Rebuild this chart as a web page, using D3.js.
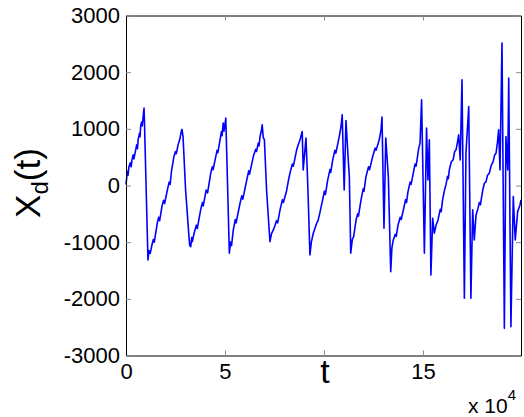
<!DOCTYPE html>
<html>
<head>
  <script src="https://d3js.org/d3.v7.min.js"></script>
  <style>
    body { margin: 0; background: #fff; }
    text { font-family: "Liberation Sans", Arial, Helvetica, sans-serif; fill: #000; }
    .axis path { stroke: #000; stroke-width: 1; }
    .axis line { stroke: #8a8a8a; }
  </style>
</head>
<body>
<script>
  // time samples (t) and displacement X_d(t)
  var tSamples = [
    0, 700, 1000, 1500, 2200, 2600, 3000, 3600, 4000, 4900, 5400, 5800, 6100, 6800, 7100, 7400, 7900, 8200, 8600, 9100, 9300, 11100,
    11600, 12200, 13100, 13800, 14300, 15800, 16500, 17000, 18200, 19000, 19500, 20900, 21800, 22300, 23000, 24200, 25000, 25400, 26300, 27200, 27900, 28300, 28800, 30100, 31800, 32200, 32700, 33200, 33500, 34400,
    35500, 36000, 37700, 38600, 39000, 40500, 41200, 42800, 43600, 44000, 45000, 46000, 46400, 47500, 48200, 48500, 49100, 49500, 50000, 50400, 52200,
    52800, 53300, 54200, 55200, 55600, 57600, 58500, 59000, 61000, 62000, 62400, 64300, 65500, 65900, 66800, 67200, 67700, 68300, 68800, 69300, 69900, 71000, 72700,
    73500, 74400, 75300, 76000, 76600, 77800, 79000, 79500, 81200, 82000, 82800, 84000, 84500, 86200, 87000, 87900, 89000, 89500, 90900, 91600, 92100, 92900,
    93600, 94600, 95400, 96300, 97000, 97800, 99300, 100200, 100700, 101900, 103000, 103400, 104400, 105500, 106000, 107700, 108600, 109200, 110200, 111100, 112300, 112800, 113500,
    114300, 115000, 116200, 117000, 117400, 118700, 119800, 120200, 121200, 122500, 123000, 124600, 125800, 126300, 127900, 128800, 129300, 130300, 131200, 132500, 133700,
    134300, 135000, 136000, 136500, 137400, 138500, 139000, 140100, 141200, 141700, 142400, 143500, 144000, 145100, 146000, 146500, 147000, 147800, 148500, 149300, 150700, 151800, 152500, 153200, 154000, 154900, 155700,
    156600, 157600, 158700, 159200, 159900, 161000, 161600, 162400, 162800, 163300, 164300, 165200, 166000, 166700, 167400, 168000, 168800, 169700, 170900, 171700, 173100, 174200, 175100, 175900, 176800,
    177800, 178500, 179000, 180200, 181000, 181800, 182600, 183500, 184500, 185400, 186200, 186900, 187600, 188200, 188900, 189900, 191100, 191900, 192800, 193300, 194400, 195600, 196600, 197800, 199000, 199500
  ];
  var xdSamples = [
    20, 250, 180, 334, 400, 330, 452, 540, 470, 629, 720, 650, 806, 920, 860, 1041, 1120, 1050, 1194, 1366, 1150, -1314,
    -1150, -1200, -1049, -950, -1000, -666, -560, -620, -360, -260, -320, -78, 60, 20, 260, 511, 600, 560, 717, 820, 952, 990, 864, -78, -903, -1060, -1080, -920, -990, -843,
    -700, -760, -431, -300, -360, -80, -130, 217, 330, 280, 452, 620, 580, 806, 950, 880, 1100, 960, 1080, 1189, -1196,
    -1000, -1060, -784, -600, -660, -313, -180, -240, 99, 260, 200, 511, 640, 600, 747, 700, 864, 952, 1071, 850, 806, -78, -991,
    -850, -784, -700, -620, -660, -431, -250, -300, -78, 80, 217, 380, 340, 629, 720, 806, 952, 276, 836, 217, -313, -1226,
    -1000, -843, -760, -666, -620, -500, -254, -100, -160, 99, 280, 230, 452, 620, 570, 864, 1041, 1247, -78, 1147, 422, 157, -1196,
    -950, -900, -608, -500, -540, -254, -60, -100, 157, 330, 280, 511, 660, 620, 806, 982, 1207, -755, 836, 157, -1521,
    -1100, -961, -860, -900, -696, -560, -600, -431, -250, -300, -113, 60, 20, 217, 380, 340, 452, 650, 747, 1512, -1196, 1012, 99, 806, -1579, -578, -843,
    -700, -608, -420, -460, -254, -60, 11, 160, 120, 276, 420, 452, 600, 629, 760, 894, 452, 1866, -1991, 571, 1394, -1991, -431, -961, -519,
    -400, -300, -340, -78, 40, 64, 180, 217, 360, 417, 540, 571, 760, 982, 276, 2514, -2521, 864, 276, 1896, -2493, -196, -961, -461, -343, -254
  ];
  var xTicks = [0, 50000, 100000, 150000];
  var xTickLabels = ["0", "5", "", "15"];   // the 10 label sits under the "t"
  var yTicks = [-3000, -2000, -1000, 0, 1000, 2000, 3000];

  var W = 524, H = 417;
  var plot = { left: 126, right: 521, top: 15.5, bottom: 355.5 };

  var svg = d3.select("body").append("svg")
    .attr("width", W).attr("height", H);

  var x = d3.scaleLinear().domain([0, 199500]).range([plot.left, plot.right]);
  var y = d3.scaleLinear().domain([-3000, 3000]).range([plot.bottom, plot.top]);

  var data = tSamples.map(function(t, i) { return { t: t, v: xdSamples[i] }; });

  // series
  svg.append("path")
    .datum(data)
    .attr("fill", "none")
    .attr("stroke", "#0000ff")
    .attr("stroke-width", 1.6)
    .attr("stroke-linejoin", "round")
    .attr("d", d3.line().x(function(d) { return x(d.t); }).y(function(d) { return y(d.v); }));

  // axes, ticks pointing inward on all four sides
  svg.append("g").attr("class", "axis")
    .attr("transform", "translate(0," + plot.bottom + ")")
    .call(d3.axisBottom(x).tickValues(xTicks).tickSizeInner(-5).tickSizeOuter(0).tickPadding(8)
      .tickFormat(function(d, i) { return xTickLabels[i]; }))
    .call(function(g) { g.selectAll("text").style("font-size", "22px"); });

  svg.append("g").attr("class", "axis")
    .attr("transform", "translate(0," + plot.top + ")")
    .call(d3.axisTop(x).tickValues(xTicks).tickSizeInner(-5).tickSizeOuter(0).tickFormat(""));

  svg.append("g").attr("class", "axis")
    .attr("transform", "translate(" + plot.left + ",0)")
    .call(d3.axisLeft(y).tickValues(yTicks).tickSizeInner(-5).tickSizeOuter(0).tickPadding(6)
      .tickFormat(function(d) { return d; }))
    .call(function(g) { g.selectAll("text").style("font-size", "22px"); });

  svg.append("g").attr("class", "axis")
    .attr("transform", "translate(" + plot.right + ",0)")
    .call(d3.axisRight(y).tickValues(yTicks).tickSizeInner(-5).tickSizeOuter(0).tickFormat(""));

  svg.selectAll(".axis text").attr("fill", "#000");

  // axis labels
  svg.append("text")
    .attr("x", 325).attr("y", 383)
    .attr("text-anchor", "middle")
    .style("font-size", "34px")
    .text("t");

  var yl = svg.append("text")
    .attr("transform", "translate(40,183) rotate(-90)")
    .attr("text-anchor", "middle")
    .style("font-size", "35px");
  yl.append("tspan").text("X");
  yl.append("tspan").attr("dy", 8).style("font-size", "24px").text("d");
  yl.append("tspan").attr("dy", -8).text("(t)");

  // exponent note
  var ex = svg.append("text").attr("x", 468).attr("y", 413).style("font-size", "21px");
  ex.append("tspan").text("x 10");
  ex.append("tspan").attr("dy", -13).style("font-size", "15px").text("4");
</script>
</body>
</html>
